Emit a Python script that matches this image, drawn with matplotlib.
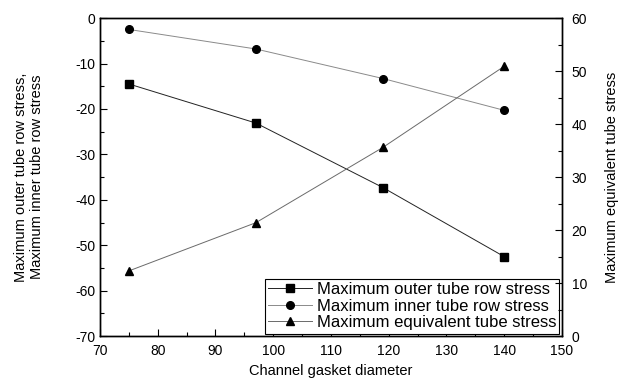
import matplotlib
matplotlib.use("Agg")
import matplotlib.pyplot as plt
from matplotlib.ticker import MultipleLocator

plt.rcParams['font.family'] = ['Liberation Sans', 'DejaVu Sans']
plt.rcParams['axes.unicode_minus'] = False

diameter = [75, 97, 119, 140]
outer_stress = [-14.5, -23.1, -37.3, -52.5]
inner_stress = [-2.5, -6.8, -13.3, -20.3]
equiv_stress = [12.3, 21.4, 35.6, 50.9]

fig = plt.figure(figsize=(6.25, 3.85), dpi=100)
ax = fig.add_axes([0.16, 0.127, 0.739, 0.826])
ax2 = ax.twinx()

l1, = ax.plot(diameter, outer_stress, '-', color='#222222', lw=0.7,
              marker='s', ms=5.2, mfc='black', mec='black', label='Maximum outer tube row stress')
l2, = ax.plot(diameter, inner_stress, '-', color='#8a8a8a', lw=0.7,
              marker='o', ms=5.5, mfc='black', mec='black', label='Maximum inner tube row stress')
l3, = ax2.plot(diameter, equiv_stress, '-', color='#6a6a6a', lw=0.7,
               marker='^', ms=6, mfc='black', mec='black', label='Maximum equivalent tube stress')

ax.set_xlim(70, 150)
ax.set_ylim(-70, 0)
ax2.set_ylim(0, 60)
ax.xaxis.set_major_locator(MultipleLocator(10))
ax.xaxis.set_minor_locator(MultipleLocator(5))
ax.yaxis.set_major_locator(MultipleLocator(10))
ax.yaxis.set_minor_locator(MultipleLocator(5))
ax2.yaxis.set_major_locator(MultipleLocator(10))
ax2.yaxis.set_minor_locator(MultipleLocator(5))

for a in (ax, ax2):
    a.tick_params(which='major', direction='in', length=5, width=0.8, labelsize=10)
    a.tick_params(which='minor', direction='in', length=3, width=0.8)
    for s in a.spines.values():
        s.set_linewidth(1.0)
ax.tick_params(top=False, which='both')
ax.tick_params(axis='x', pad=6)
ax2.tick_params(axis='y', pad=7)

ax.set_xlabel('Channel gasket diameter', fontsize=10.5, labelpad=4)
ax.set_ylabel('Maximum outer tube row stress,\nMaximum inner tube row stress', fontsize=10.5, labelpad=22)
ax2.set_ylabel('Maximum equivalent tube stress', fontsize=10.5, labelpad=13)

leg = ax.legend(handles=[l1, l2, l3], loc='lower right', fontsize=12, frameon=True,
                fancybox=False, edgecolor='black', framealpha=1, borderaxespad=0.15,
                handlelength=2.6, handletextpad=0.3, labelspacing=0.1, borderpad=0.2)
leg.get_frame().set_linewidth(0.8)

fig.savefig('out.png', dpi=100)
